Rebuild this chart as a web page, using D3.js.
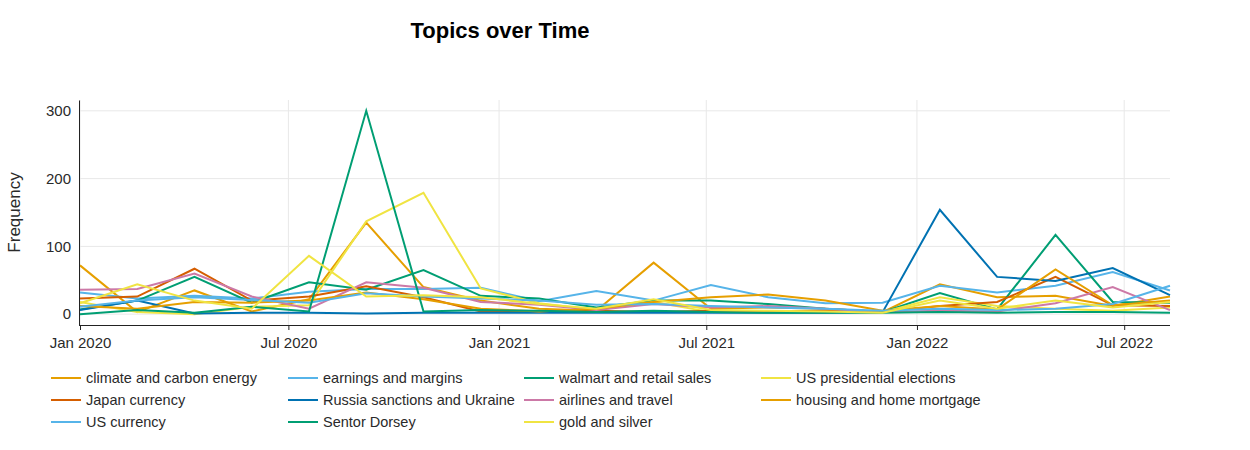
<!DOCTYPE html>
<meta charset="utf-8">
<html>
<head>
<style>
  body { margin: 0; background: #fff; }
  svg { font-family: "Liberation Sans", Arial, sans-serif; }
  .grid line { stroke: #e8e8e8; stroke-width: 1px; }
  .topic { fill: none; stroke-width: 2px; }
</style>
</head>
<body>
<svg width="1250" height="450"></svg>
<script src="https://d3js.org/d3.v7.min.js"></script>
<script>
// bin timestamps (one point per bin)
var dates = ["2020-01-01", "2020-02-20", "2020-04-10", "2020-05-30", "2020-07-19",
  "2020-09-07", "2020-10-27", "2020-12-16", "2021-02-05", "2021-03-27",
  "2021-05-16", "2021-07-05", "2021-08-24", "2021-10-13", "2021-12-02",
  "2022-01-21", "2022-03-12", "2022-05-02", "2022-06-21", "2022-08-10"];

var topicNames = ["climate and carbon energy", "earnings and margins", "walmart and retail sales",
  "US presidential elections", "Japan currency", "Russia sanctions and Ukraine",
  "airlines and travel", "housing and home mortgage", "US currency", "Sentor Dorsey",
  "gold and silver"];

var topicColors = ["#E69F00", "#56B4E9", "#009E73", "#F0E442", "#D55E00", "#0072B2",
  "#CC79A7", "#E69F00", "#56B4E9", "#009E73", "#F0E442"];

// frequency per topic, same order as topicNames
var climate   = [72, 3, 35, 4, 22, 135, 40, 20, 8, 5, 76, 8, 10, 8, 3, 44, 25, 27, 12, 26];
var earnings  = [32, 23, 27, 23, 33, 37, 37, 39, 19, 34, 20, 43, 25, 16, 17, 42, 32, 42, 62, 35];
var walmart   = [7, 20, 55, 17, 47, 36, 65, 27, 23, 10, 20, 20, 15, 8, 3, 31, 7, 117, 18, 17];
var election  = [18, 3, 0, 11, 13, 137, 179, 38, 16, 6, 18, 3, 4, 5, 3, 25, 12, 8, 5, 10];
var japan     = [23, 26, 67, 20, 26, 41, 25, 4, 3, 5, 3, 5, 4, 5, 3, 12, 18, 55, 13, 12];
var russia    = [6, 20, 1, 2, 2, 1, 2, 2, 2, 2, 2, 2, 2, 2, 3, 154, 55, 49, 68, 28];
var airlines  = [36, 37, 60, 26, 8, 47, 39, 18, 14, 6, 15, 10, 12, 8, 3, 5, 4, 16, 40, 6];
var housing   = [12, 8, 18, 17, 20, 32, 22, 8, 4, 8, 18, 25, 29, 20, 5, 12, 7, 66, 13, 20];
var currency  = [11, 20, 25, 21, 17, 31, 26, 23, 20, 14, 15, 12, 10, 8, 5, 8, 6, 8, 15, 42];
var dorsey    = [0, 6, 2, 11, 4, 300, 4, 6, 5, 3, 5, 3, 2, 2, 2, 3, 2, 3, 3, 2];
var gold      = [16, 44, 20, 8, 86, 26, 28, 25, 15, 8, 22, 6, 5, 4, 2, 20, 8, 20, 10, 18];

var yTicks = [0, 100, 200, 300];

var seriesValues = [climate, earnings, walmart, election, japan, russia,
  airlines, housing, currency, dorsey, gold];

var parseDate = d3.timeParse("%Y-%m-%d");
var times = dates.map(parseDate);

var series = topicNames.map(function(name, i) {
  return {
    name: name,
    color: topicColors[i],
    values: seriesValues[i].map(function(v, j) { return { time: times[j], freq: v }; })
  };
});

var svg = d3.select("svg"),
    margin = {top: 100, right: 80, bottom: 125, left: 80},
    width = +svg.attr("width") - margin.left - margin.right,
    height = +svg.attr("height") - margin.top - margin.bottom;

var x = d3.scaleTime()
    .domain(d3.extent(times))
    .range([margin.left, margin.left + width]);

var y = d3.scaleLinear()
    .domain([-16, 316])
    .range([margin.top + height, margin.top]);

var xTicks = d3.timeMonth.every(6).range(new Date(2020, 0, 1), new Date(2022, 8, 1));

// grid
var grid = svg.append("g").attr("class", "grid");
grid.selectAll(".gx")
  .data(xTicks)
  .enter().append("line")
    .attr("x1", function(d) { return x(d); })
    .attr("x2", function(d) { return x(d); })
    .attr("y1", margin.top)
    .attr("y2", margin.top + height);
grid.selectAll(".gy")
  .data(yTicks)
  .enter().append("line")
    .attr("x1", margin.left)
    .attr("x2", margin.left + width)
    .attr("y1", function(d) { return y(d); })
    .attr("y2", function(d) { return y(d); });

// lines
var line = d3.line()
    .x(function(d) { return x(d.time); })
    .y(function(d) { return y(d.freq); });

svg.append("g").selectAll("path")
  .data(series)
  .enter().append("path")
    .attr("class", "topic")
    .attr("stroke", function(d) { return d.color; })
    .attr("d", function(d) { return line(d.values); });

// x axis
var xAxis = svg.append("g")
    .attr("transform", "translate(0," + (margin.top + height) + ")")
    .call(d3.axisBottom(x)
      .tickValues(xTicks)
      .tickFormat(d3.timeFormat("%b %Y"))
      .tickSize(5)
      .tickPadding(7)
      .tickSizeOuter(0));
xAxis.select(".domain").attr("d", "M" + (margin.left - 1) + ",0.5H" + (margin.left + width));
xAxis.selectAll("text").attr("font-size", "15px").attr("fill", "#2a2a2a").attr("font-family", "inherit");
xAxis.selectAll("line").attr("stroke", "#222");
xAxis.select(".domain").attr("stroke", "#222");

// y axis
var yAxis = svg.append("g")
    .attr("transform", "translate(" + (margin.left - 1) + ",0)")
    .call(d3.axisLeft(y)
      .tickValues(yTicks)
      .tickSize(0)
      .tickPadding(8)
      .tickSizeOuter(0));
yAxis.select(".domain").attr("stroke", "#222");
yAxis.selectAll("text").attr("font-size", "15px").attr("fill", "#2a2a2a").attr("font-family", "inherit");

// y axis title
svg.append("text")
    .attr("transform", "translate(20," + (margin.top + height / 2) + ") rotate(-90)")
    .attr("text-anchor", "middle")
    .attr("font-size", "17px")
    .attr("fill", "#2a2a2a")
    .text("Frequency");

// title
svg.append("text")
    .attr("x", 500)
    .attr("y", 38)
    .attr("text-anchor", "middle")
    .attr("font-size", "22px")
    .attr("font-weight", "bold")
    .attr("fill", "#000")
    .text("Topics over Time");

// legend, 4 columns
var legendCols = [51, 288, 524, 761];
var legend = svg.append("g").selectAll("g")
  .data(series)
  .enter().append("g")
    .attr("transform", function(d, i) {
      return "translate(" + legendCols[i % 4] + "," + (378 + Math.floor(i / 4) * 22) + ")";
    });
legend.append("line")
    .attr("x1", 0).attr("x2", 30)
    .attr("stroke", function(d) { return d.color; })
    .attr("stroke-width", 2);
legend.append("text")
    .attr("x", 35)
    .attr("dy", "0.35em")
    .attr("font-size", "14.5px")
    .attr("fill", "#2a2a2a")
    .text(function(d) { return d.name; });
</script>
</body>
</html>
